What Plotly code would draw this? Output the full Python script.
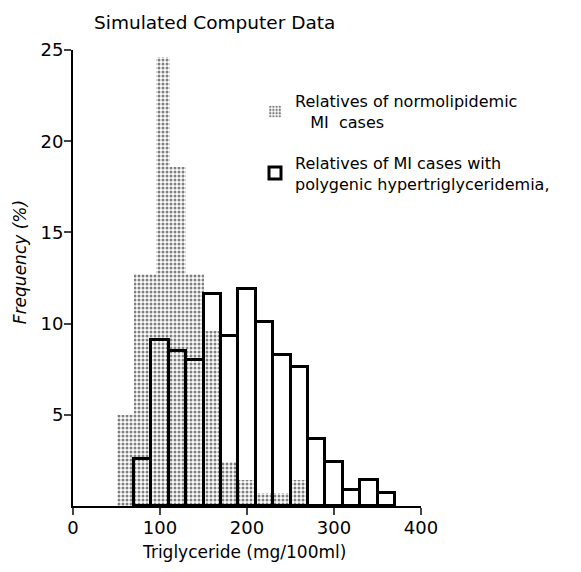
import plotly.graph_objects as go

# Relatives of normolipidemic MI cases (dotted histogram)
dot_left = [50, 70, 95, 112, 130, 150, 170, 190, 210, 230, 250]
dot_right = [70, 95, 112, 130, 150, 170, 190, 210, 230, 250, 270]
dot_freq = [5.0, 12.7, 24.6, 18.6, 12.7, 9.6, 2.4, 1.4, 0.7, 0.7, 1.45]

# Relatives of MI cases with polygenic hypertriglyceridemia (open histogram)
open_left = [70, 90, 110, 130, 150, 170, 190, 210, 230, 250, 270, 290, 310, 330, 350]
open_right = [90, 110, 130, 150, 170, 190, 210, 230, 250, 270, 290, 310, 330, 350, 370]
open_freq = [2.6, 9.1, 8.5, 8.0, 11.6, 9.3, 11.9, 10.1, 8.3, 7.6, 3.7, 2.4, 0.9, 1.4, 0.7]

x_ticks = [0, 100, 200, 300, 400]
y_ticks = [5, 10, 15, 20, 25]

FONT = "DejaVu Sans"

fig = go.Figure()
fig.add_trace(go.Bar(
    x=[(a + b) / 2 for a, b in zip(dot_left, dot_right)],
    y=dot_freq,
    width=[b - a for a, b in zip(dot_left, dot_right)],
    name="Relatives of normolipidemic<br>\u00a0\u00a0\u00a0MI\u00a0\u00a0cases",
    legendgroup="a",
    marker=dict(color="white", line=dict(width=0),
                pattern=dict(shape=".", fgcolor="black", bgcolor="white",
                             size=4, solidity=0.45)),
))
fig.add_trace(go.Bar(
    x=[(a + b) / 2 for a, b in zip(open_left, open_right)],
    y=open_freq,
    width=[b - a for a, b in zip(open_left, open_right)],
    name="Relatives of MI cases with<br>polygenic hypertriglyceridemia,",
    legendgroup="b",
    marker=dict(color="rgba(0,0,0,0)", line=dict(color="black", width=3)),
))

fig.update_layout(
    width=573, height=564,
    margin=dict(l=65, r=160, t=42, b=66, autoexpand=False),
    plot_bgcolor="white", paper_bgcolor="white",
    barmode="overlay", bargap=0,
    font=dict(family=FONT, size=15, color="black"),
    showlegend=True,
    legend=dict(x=0.523, y=0.925, xanchor="left", yanchor="top",
                bgcolor="rgba(0,0,0,0)", font=dict(size=16, family=FONT),
                traceorder="grouped", tracegroupgap=17, itemwidth=30),
    annotations=[
        dict(text="Simulated Computer Data", xref="paper", yref="paper",
             x=0.055, y=1.061, xanchor="left", yanchor="middle",
             showarrow=False, font=dict(size=18.5, family=FONT)),
        dict(text="Triglyceride (mg/100ml)", xref="paper", yref="paper",
             x=0.491, y=-0.101, xanchor="center", yanchor="middle",
             showarrow=False, font=dict(size=17, family=FONT)),
        dict(text="<i>Frequency (%)</i>", xref="paper", yref="paper",
             x=-0.152, y=0.535, xanchor="center", yanchor="middle", textangle=-90,
             showarrow=False, font=dict(size=17, family=FONT)),
    ],
)
fig.update_xaxes(range=[0, 400], tickvals=x_ticks, ticks="outside", ticklen=7,
                 tickwidth=2, showline=True, linewidth=2, linecolor="black",
                 showgrid=False, zeroline=False, tickfont=dict(size=18),
                 ticklabelstandoff=-3, automargin=False)
fig.update_yaxes(range=[0, 25], tickvals=y_ticks, ticks="outside", ticklen=7,
                 tickwidth=2, showline=True, linewidth=2, linecolor="black",
                 showgrid=False, zeroline=False, tickfont=dict(size=18),
                 ticklabelstandoff=-3, automargin=False)

fig.write_html("out.html")
